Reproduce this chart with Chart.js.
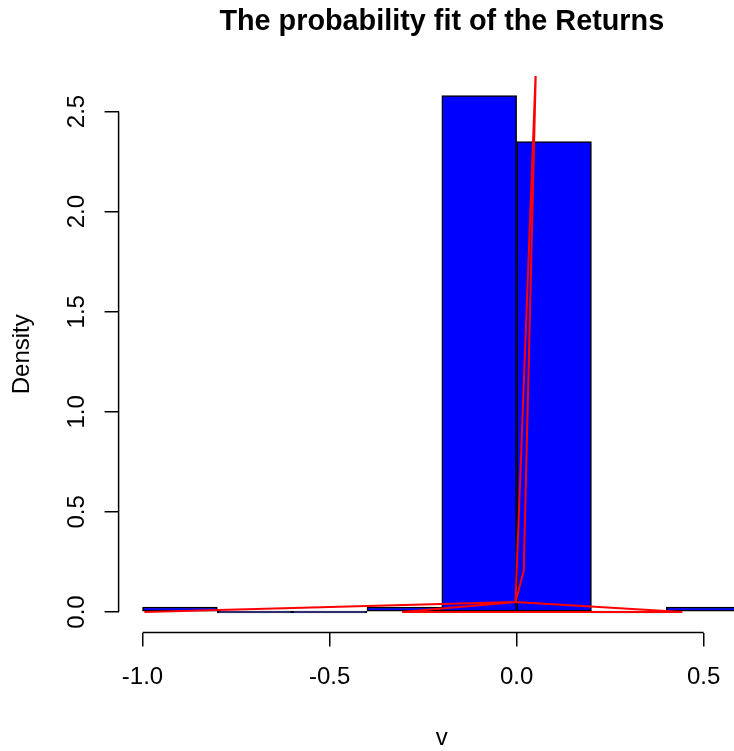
<!DOCTYPE html>
<html>
<head>
<meta charset="utf-8">
<script src="https://cdn.jsdelivr.net/npm/chart.js@4/dist/chart.umd.min.js"></script>
<style>
  html, body { margin: 0; padding: 0; background: #ffffff; overflow: hidden; }
  canvas { display: block; }
</style>
</head>
<body>
<canvas id="c" width="765" height="751"></canvas>
<script>
// ---- data ----
const chartTitle = "The probability fit of the Returns";
const xTitle = "v";
const yTitle = "Density";
// histogram bins (width 0.2): mid points and densities
const binMids = [-0.9, -0.7, -0.5, -0.3, -0.1, 0.1, 0.3, 0.5];
const binDensity = [0.025, 0, 0, 0.025, 2.58, 2.35, 0, 0.025];
// red fitted line, drawn in data order (unsorted as in the original)
const fitX = [-0.995, -0.003, 0.443, -0.306, -0.003, 0.052, 0.019, -0.003];
const fitY = [0.0, 0.05, 0.0, 0.0, 0.05, 2.75, 0.205, 0.05];
// axis ticks
const xTicks = [-1.0, -0.5, 0.0, 0.5];
const yTicks = [0.0, 0.5, 1.0, 1.5, 2.0, 2.5];

const FONT = '"Liberation Sans", Arial, Helvetica, sans-serif';

const rAxisPlugin = {
  id: 'rAxis',
  afterDraw(chart) {
    const ctx = chart.ctx;
    const xs = chart.scales.x, ys = chart.scales.y;
    const area = chart.chartArea;
    ctx.save();
    ctx.strokeStyle = '#000';
    ctx.lineWidth = 1.5;
    ctx.beginPath();
    ctx.moveTo(xs.getPixelForValue(xTicks[0]), area.bottom);
    ctx.lineTo(xs.getPixelForValue(xTicks[xTicks.length - 1]), area.bottom);
    ctx.moveTo(area.left, ys.getPixelForValue(yTicks[0]));
    ctx.lineTo(area.left, ys.getPixelForValue(yTicks[yTicks.length - 1]));
    ctx.stroke();
    // main title centred over the plot region
    ctx.fillStyle = '#000';
    ctx.font = 'bold 28.8px ' + FONT;
    ctx.textAlign = 'center';
    ctx.textBaseline = 'alphabetic';
    ctx.fillText(chartTitle, (area.left + area.right) / 2, 30);
    ctx.restore();
  }
};

new Chart(document.getElementById('c'), {
  type: 'bar',
  data: {
    datasets: [
      {
        type: 'line',
        label: 'fit',
        data: fitX.map((x, i) => ({ x: x, y: fitY[i] })),
        borderColor: '#ff0000',
        borderWidth: 2,
        pointRadius: 0,
        tension: 0,
        fill: false,
        order: 0
      },
      {
        type: 'bar',
        label: 'hist',
        data: binMids.map((x, i) => ({ x: x, y: binDensity[i] })),
        backgroundColor: '#0000ff',
        borderColor: '#000000',
        borderWidth: 1.5,
        borderSkipped: false,
        barPercentage: 1,
        categoryPercentage: 1,
        minBarLength: 2,
        order: 1
      }
    ]
  },
  options: {
    responsive: false,
    animation: false,
    devicePixelRatio: 1,
    layout: { padding: { top: 75.9, left: 0, right: 0, bottom: 0 } },
    plugins: {
      legend: { display: false },
      tooltip: { enabled: false },
      title: { display: false }
    },
    scales: {
      x: {
        type: 'linear',
        position: 'bottom',
        offset: false,
        min: -1.064,
        max: 0.664,
        afterBuildTicks: (s) => { s.ticks = xTicks.map(v => ({ value: v })); },
        afterFit: (s) => { s.height = 118.4; },
        ticks: {
          autoSkip: false,
          maxRotation: 0,
          minRotation: 0,
          padding: 16,
          color: '#000',
          font: { family: FONT, size: 24 },
          callback: (v) => Number(v).toFixed(1)
        },
        grid: {
          display: true,
          offset: false,
          drawOnChartArea: false,
          drawTicks: true,
          tickLength: 14,
          color: '#000',
          lineWidth: 1.5
        },
        border: { display: false },
        title: {
          display: true,
          text: xTitle,
          color: '#000',
          font: { family: FONT, size: 24 },
          padding: { top: 0, bottom: -1.5 }
        }
      },
      y: {
        type: 'linear',
        position: 'left',
        min: -0.103,
        max: 2.678,
        afterBuildTicks: (s) => { s.ticks = yTicks.map(v => ({ value: v })); },
        afterFit: (s) => { s.width = 118.6; },
        ticks: {
          autoSkip: false,
          minRotation: 90,
          maxRotation: 90,
          crossAlign: 'center',
          padding: 10.5,
          color: '#000',
          font: { family: FONT, size: 24 },
          callback: (v) => Number(v).toFixed(1)
        },
        grid: {
          display: true,
          drawOnChartArea: false,
          drawTicks: true,
          tickLength: 14,
          color: '#000',
          lineWidth: 1.5
        },
        border: { display: false },
        title: {
          display: true,
          text: yTitle,
          color: '#000',
          font: { family: FONT, size: 24 },
          padding: { top: 7.6, bottom: 0 }
        }
      }
    }
  },
  plugins: [rAxisPlugin]
});
</script>
</body>
</html>
